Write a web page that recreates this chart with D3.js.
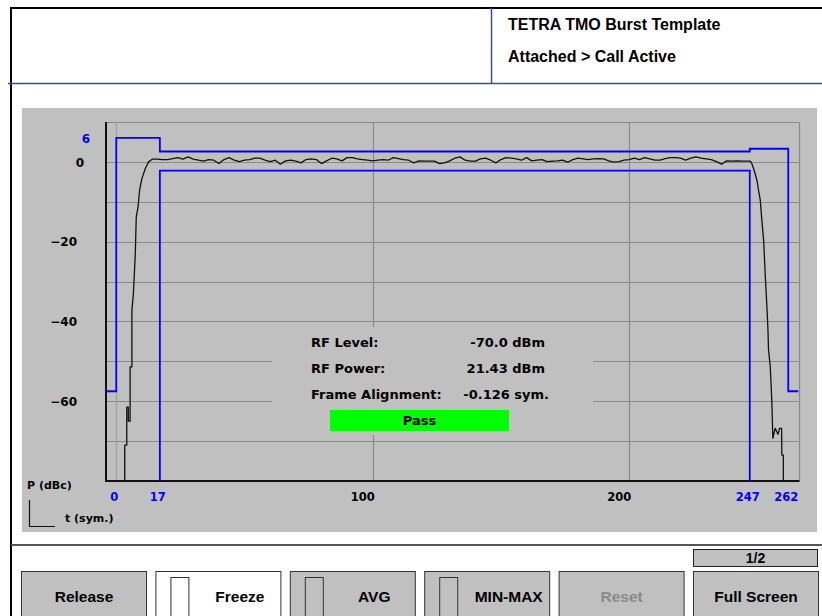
<!DOCTYPE html>
<html><head><meta charset="utf-8">
<script src="https://cdn.jsdelivr.net/npm/d3@7"></script>
<style>
body{margin:0;background:#fff;}
svg{display:block;}
text{font-family:'DejaVu Sans',sans-serif;font-weight:bold;}
</style>
</head><body>
<svg id="c" width="822" height="616"></svg>
<script>
// ---------- DATA ----------
const headerLines = ["TETRA TMO Burst Template", "Attached > Call Active"];
const yTickValues = [6, 0, -20, -40, -60];
const yTickBlue = [6];
const xTickValues = [0, 17, 100, 200, 247, 262];
const xTickBlue = [0, 17, 247, 262];
const yGridValues = [-70, -60, -50, -40, -30, -20, -10, 0, 10];
const xGridValues = [0, 100, 200, 266];

// burst template (mask) in symbols / dBc
const upperMaskT = [-4, 0, 0, 17, 17, 247, 247, 262, 262, 266];
const upperMaskP = [-57.5, -57.5, 6, 6, 2.6, 2.6, 3.3, 3.3, -57.5, -57.5];
const lowerMaskT = [17, 17, 247, 247];
const lowerMaskP = [-80, -2.2, -2.2, -80];

// measured trace: ramp up
const riseT = [3.3, 3.3, 4.1, 4.1, 4.7, 4.7, 5.4, 5.4, 6.1, 6.1, 6.7, 7.4, 7.8, 8.5, 9.1, 10.0, 11.3, 12.6];
const riseP = [-80, -71, -71, -61.5, -61.5, -65, -65, -51.4, -51.4, -37.3, -32.8, -23.4, -13.8, -11.3, -7.1, -4.2, -1.7, 0];
// useful part, sampled every 2 symbols from 14 to 246
const flatP = [
  0.67,0.67,0.58,0.58,0.83,1.08,0.67,1.25,0.67,0.42,
  0.17,0.58,0.42,-0.42,0.58,1.08,0.42,0.08,0.42,0.58,
  0.92,0.92,0.42,0.08,0.42,-0.58,0.25,0.42,0.17,-0.25,
  0.58,0.75,0.58,-0.42,0.25,0.92,0.75,0.25,1.08,1.08,
  0.75,0.58,
  0.42,0.25,0.42,0.58,0.42,1.08,0.83,0.58,0.42,-0.25,
  0.25,0.17,0.17,0.17,-0.42,-0.25,0.25,0.92,1.25,0.42,
  0.17,0.17,0.75,0.92,0.42,-0.25,0.58,1.08,0.92,0.75,
  0.42,1.08,0.25,0.42,0.58,0.08,0.17,0.25,0.42,-0.08,
  0.58,0.92,0.75,
  0.58,0.75,0.83,0.75,0.25,-0.08,0.08,0.42,0.58,0.92,
  0.58,1.08,0.75,0.42,0.42,0.83,1.08,1.08,0.92,0.42,
  0.92,1.25,0.92,0.75,0.58,0.08,-0.58,0.25,0.17,0.25,
  0.17,0.17
];
const flatT = d3.range(14, 247, 2);
// ramp down
const fallT = [247.2, 247.8, 248.7, 249.8, 250.4, 251.1, 251.7, 252.4, 253.0, 253.7, 254.1, 254.3, 255.0, 255.6, 256.0, 256.9, 258.0, 258.6, 259.4, 259.5, 260.1, 260.1];
const fallP = [0.2, -0.4, -2.1, -4.6, -7.1, -9.6, -14.6, -19.6, -27.9, -36.6, -42.2, -47, -51.4, -60, -69.3, -66.8, -68.3, -66.8, -66.8, -73.5, -73.5, -80];

const infoLabels = ["RF Level:", "RF Power:", "Frame Alignment:"];
const infoValues = ["-70.0 dBm", "21.43 dBm", "-0.126 sym."];
const statusText = "Pass";
const pageText = "1/2";
const buttonNames = ["Release", "Freeze", "AVG", "MIN-MAX", "Reset", "Full Screen"];
const buttonHasBox = [false, true, true, true, false, false];
const buttonActive = [false, true, false, false, false, false];
const buttonDisabled = [false, false, false, false, true, false];

// ---------- DRAW ----------
const svg = d3.select("#c");
const BLUE = "#0000ff", PANEL = "#c0c0c0", GRID = "#8a8a8a";

// frame
svg.append("rect").attr("x",0).attr("y",0).attr("width",822).attr("height",616).attr("fill","#fff");
svg.append("line").attr("x1",11).attr("x2",822).attr("y1",8).attr("y2",8).attr("stroke","#000").attr("stroke-width",2);
svg.append("line").attr("x1",11).attr("x2",11).attr("y1",7).attr("y2",616).attr("stroke","#000").attr("stroke-width",2);
svg.append("line").attr("x1",8).attr("x2",822).attr("y1",83.5).attr("y2",83.5).attr("stroke","#3c4c8c").attr("stroke-width",1.5);
svg.append("line").attr("x1",491.5).attr("x2",491.5).attr("y1",8).attr("y2",83).attr("stroke","#3c4c8c").attr("stroke-width",1.5);
svg.selectAll("text.hdr").data(headerLines).join("text").attr("class","hdr")
  .attr("x",508).attr("y",(d,i)=>i===0?30:62)
  .style("font-family","'Liberation Sans',Arial,sans-serif").style("font-size","16px").attr("fill","#000")
  .text(d=>d);

// panel
svg.append("rect").attr("x",22).attr("y",108).attr("width",795).attr("height",424).attr("fill",PANEL);

// scales
const x = d3.scaleLinear().domain([-4, 266]).range([106, 798.5]);
const y = d3.scaleLinear().domain([-80, 10]).range([481, 122]);

const plot = svg.append("g");
// grid
plot.selectAll("line.hg").data(yGridValues).join("line").attr("class","hg")
  .attr("x1",x(-4)).attr("x2",x(266)).attr("y1",d=>Math.round(y(d))+0.5).attr("y2",d=>Math.round(y(d))+0.5)
  .attr("stroke",GRID).attr("stroke-width",1.2);
plot.selectAll("line.vg").data(xGridValues).join("line").attr("class","vg")
  .attr("x1",d=>Math.round(x(d))+0.5).attr("x2",d=>Math.round(x(d))+0.5).attr("y1",y(10)).attr("y2",y(-80))
  .attr("stroke",d=>d===0?"#a0a0a0":GRID).attr("stroke-width",1.2);

// info box background (hides grid behind text)
plot.append("rect").attr("x",272).attr("y",327).attr("width",321).attr("height",108).attr("fill",PANEL);

// axes lines
plot.append("line").attr("x1",x(-4)).attr("x2",x(-4)).attr("y1",y(10)).attr("y2",y(-80)+1).attr("stroke","#111").attr("stroke-width",2);
plot.append("line").attr("x1",x(-4)).attr("x2",x(266)+1).attr("y1",y(-80)).attr("y2",y(-80)).attr("stroke","#111").attr("stroke-width",2);

// clip
svg.append("clipPath").attr("id","clip").append("rect")
  .attr("x",x(-4)).attr("y",y(10)).attr("width",x(266)-x(-4)).attr("height",y(-80)-y(10));

const line = d3.line().x(d=>x(d[0])).y(d=>y(d[1]));
const upper = upperMaskT.map((t,i)=>[t,upperMaskP[i]]);
const lower = lowerMaskT.map((t,i)=>[t,lowerMaskP[i]]);
const trace = [].concat(
  riseT.map((t,i)=>[t,riseP[i]]),
  flatT.map((t,i)=>[t,flatP[i]]),
  fallT.map((t,i)=>[t,fallP[i]])
);
const cg = svg.append("g").attr("clip-path","url(#clip)");
cg.append("path").attr("d",line(upper)).attr("fill","none").attr("stroke",BLUE).attr("stroke-width",1.8);
cg.append("path").attr("d",line(lower)).attr("fill","none").attr("stroke",BLUE).attr("stroke-width",1.8);
cg.append("path").attr("d",line(trace)).attr("fill","none").attr("stroke","#111").attr("stroke-width",1.3).attr("stroke-linejoin","round");

// y axis labels
const yAxis = d3.axisLeft(y).tickValues(yTickValues).tickSize(0).tickFormat(d3.format("d"));
const yg = svg.append("g").attr("transform",`translate(${x(-4)},0)`).call(yAxis);
yg.select(".domain").remove();
yg.selectAll("text")
  .style("font-family","'DejaVu Sans',sans-serif").style("font-weight","bold").style("font-size","12px")
  .attr("fill",d=>yTickBlue.includes(d)?BLUE:"#000")
  .attr("x",d=>d>0?-16:(d===0?-22:-29)).attr("dy","0.36em");

// x axis labels
const xAxis = d3.axisBottom(x).tickValues(xTickValues).tickSize(0).tickFormat(d3.format("d"));
const xg = svg.append("g").attr("transform",`translate(0,${y(-80)})`).call(xAxis);
xg.select(".domain").remove();
xg.selectAll("text")
  .style("font-family","'DejaVu Sans',sans-serif").style("font-weight","bold").style("font-size","11.5px")
  .attr("fill",d=>xTickBlue.includes(d)?BLUE:"#000")
  .attr("y",20).attr("dy",0)
  .attr("text-anchor",d=>xTickBlue.includes(d)?"middle":"end")
  .attr("x",d=>xTickBlue.includes(d)?-2.5:1.5);

// axis titles + icon
svg.append("text").attr("x",27).attr("y",489).style("font-size","11px").text("P (dBc)");
svg.append("text").attr("x",65).attr("y",522).style("font-size","11px").text("t (sym.)");
svg.append("path").attr("d","M29.5,500 V526.5 H55").attr("fill","none").attr("stroke","#111").attr("stroke-width",1.2);

// info texts
svg.selectAll("text.il").data(infoLabels).join("text").attr("class","il")
  .attr("x",311).attr("y",(d,i)=>347+i*26).style("font-size","13px").text(d=>d);
svg.selectAll("text.iv").data(infoValues).join("text").attr("class","iv")
  .attr("x",(d,i)=>i===2?549:545).attr("y",(d,i)=>347+i*26).attr("text-anchor","end").style("font-size","13px").text(d=>d);
svg.append("rect").attr("x",330).attr("y",410).attr("width",179).attr("height",21).attr("fill","#00ff00");
svg.append("text").attr("x",419.5).attr("y",425).attr("text-anchor","middle").style("font-size","13px").text(statusText);

// bottom area
svg.append("line").attr("x1",11).attr("x2",822).attr("y1",545).attr("y2",545).attr("stroke","#555").attr("stroke-width",2);
svg.append("rect").attr("x",693.5).attr("y",549.5).attr("width",124).attr("height",17).attr("fill",PANEL).attr("stroke","#222");
svg.append("text").attr("x",755.5).attr("y",563).attr("text-anchor","middle")
  .style("font-family","'Liberation Sans',Arial,sans-serif").style("font-size","14px").text(pageText);

const bx0 = 21.5, bstep = 134.4, bw = 125;
const bg = svg.selectAll("g.btn").data(buttonNames).join("g").attr("class","btn")
  .attr("transform",(d,i)=>`translate(${bx0+i*bstep},571.5)`);
bg.append("rect").attr("x",0).attr("y",0).attr("width",bw).attr("height",60)
  .attr("fill",(d,i)=>buttonActive[i]?"#fff":PANEL).attr("stroke","#333").attr("stroke-width",1);
bg.filter((d,i)=>buttonHasBox[i]).append("rect").attr("x",15).attr("y",6).attr("width",18).attr("height",60)
  .attr("fill",(d)=>d==="Freeze"?"#fff":PANEL).attr("stroke","#333").attr("stroke-width",1);
bg.append("text")
  .attr("x",(d,i)=>buttonHasBox[i]?(33+bw)/2+5:bw/2)
  .attr("y",30).attr("text-anchor","middle")
  .style("font-family","'Liberation Sans',Arial,sans-serif").style("font-size","15.5px")
  .attr("fill",(d,i)=>buttonDisabled[i]?"#8a8a8a":"#000")
  .text(d=>d);
</script>
</body></html>
